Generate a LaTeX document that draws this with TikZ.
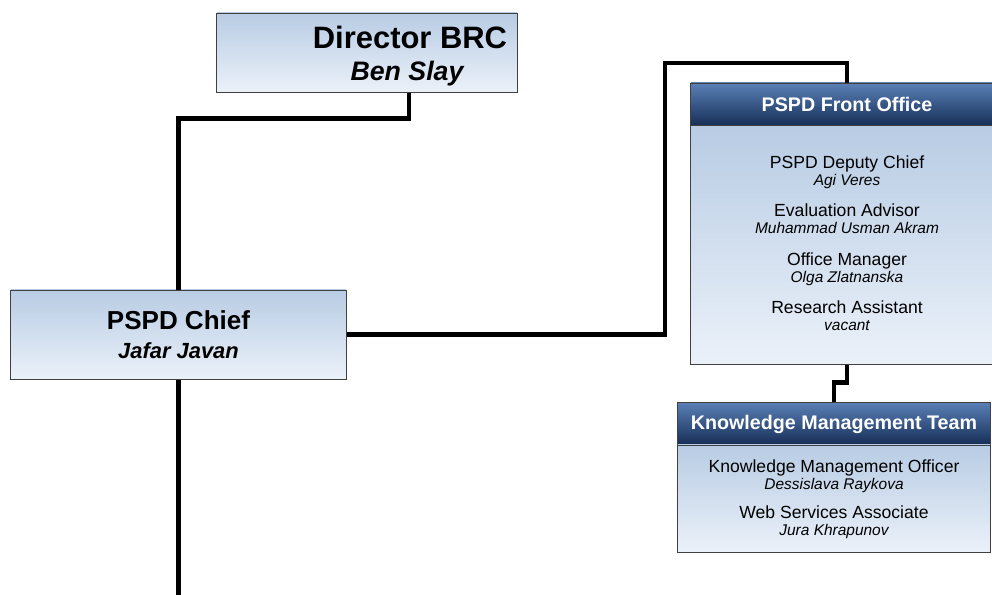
\documentclass[tikz,border=0pt]{standalone}
\usepackage{fontspec}
\setmainfont{Liberation Sans}

\definecolor{boxtop}{RGB}{184,204,228}
\definecolor{boxbottom}{RGB}{235,241,249}
\definecolor{headtop}{RGB}{90,128,182}
\definecolor{headbottom}{RGB}{22,46,86}

\tikzset{
    unitbox/.style={draw=black!75, line width=0.7pt, top color=boxtop, bottom color=boxbottom, inner sep=0pt},
    headbox/.style={draw=black!75, line width=0.7pt, top color=headtop, bottom color=headbottom, inner sep=0pt},
    headtext/.style={anchor=base, text=white, font=\bfseries\fontsize{14}{16}\selectfont},
    post/.style={anchor=base, font=\fontsize{12.5}{15}\selectfont},
    holder/.style={anchor=base, font=\itshape\fontsize{11}{13}\selectfont},
    link/.style={line width=3.5pt, black}
}

\begin{document}
\begin{tikzpicture}[x=0.025cm, y=-0.025cm]
    \useasboundingbox (0,0) rectangle (992,594);
    \clip (0,0) rectangle (992,594);

    % director and chief
    \node [unitbox, minimum width=7.5cm, minimum height=1.975cm] (director) at (367,52.5) {};
    \node [anchor=base, font=\bfseries\fontsize{22}{26}\selectfont] (dirpost) at (410,48) {Director BRC};
    \node [anchor=base, font=\bfseries\itshape\fontsize{19}{22}\selectfont] (dirholder) at (407,80) {Ben Slay};

    \node [unitbox, minimum width=8.375cm, minimum height=2.225cm] (chief) at (178.5,334.5) {};
    \node [anchor=base, font=\bfseries\fontsize{18.5}{22}\selectfont] (chiefpost) at (178.5,329) {PSPD Chief};
    \node [anchor=base, font=\bfseries\itshape\fontsize{15.6}{19}\selectfont] (chiefholder) at (178.5,358) {Jafar Javan};

    % front office
    \node [headbox, minimum width=7.8cm, minimum height=1.075cm] (fohead) at (847,104.5) {};
    \node [unitbox, minimum width=7.8cm, minimum height=5.95cm] (fobody) at (847,245) {};
    \node [headtext] (fotitle) at (847,111) {PSPD Front Office};
    \node [post] (deputy) at (847,168) {PSPD Deputy Chief};
    \node [holder] (veres) at (847,185) {Agi Veres};
    \node [post] (advisor) at (847,216) {Evaluation Advisor};
    \node [holder] (akram) at (847,233) {Muhammad Usman Akram};
    \node [post] (manager) at (847,265) {Office Manager};
    \node [holder] (zlatnanska) at (847,282) {Olga Zlatnanska};
    \node [post] (assistant) at (847,313) {Research Assistant};
    \node [holder] (vacant) at (847,330) {vacant};

    % knowledge management
    \node [headbox, minimum width=7.8cm, minimum height=1.075cm] (kmhead) at (834,423.5) {};
    \node [unitbox, minimum width=7.8cm, minimum height=2.675cm] (kmbody) at (834,498.5) {};
    \node [headtext] (kmtitle) at (834,429) {Knowledge Management Team};
    \node [post] (kmofficer) at (834,472) {Knowledge Management Officer};
    \node [holder] (raykova) at (834,489) {Dessislava Raykova};
    \node [post] (webassoc) at (834,518) {Web Services Associate};
    \node [holder] (khrapunov) at (834,535) {Jura Khrapunov};

    % connectors
    \coordinate (chiefdown) at (178.5,600);
    \draw [link] ([xshift=1.05cm]director.south) -- ++(0,26) -| (chief.north);
    \draw [link] (chief.south) -- (chiefdown);
    \draw [link] (chief.east) -| (665,63) -| (fohead.north);
    \draw [link] (fobody.south) -- ++(0,18) -| (kmhead.north);
\end{tikzpicture}
\end{document}
